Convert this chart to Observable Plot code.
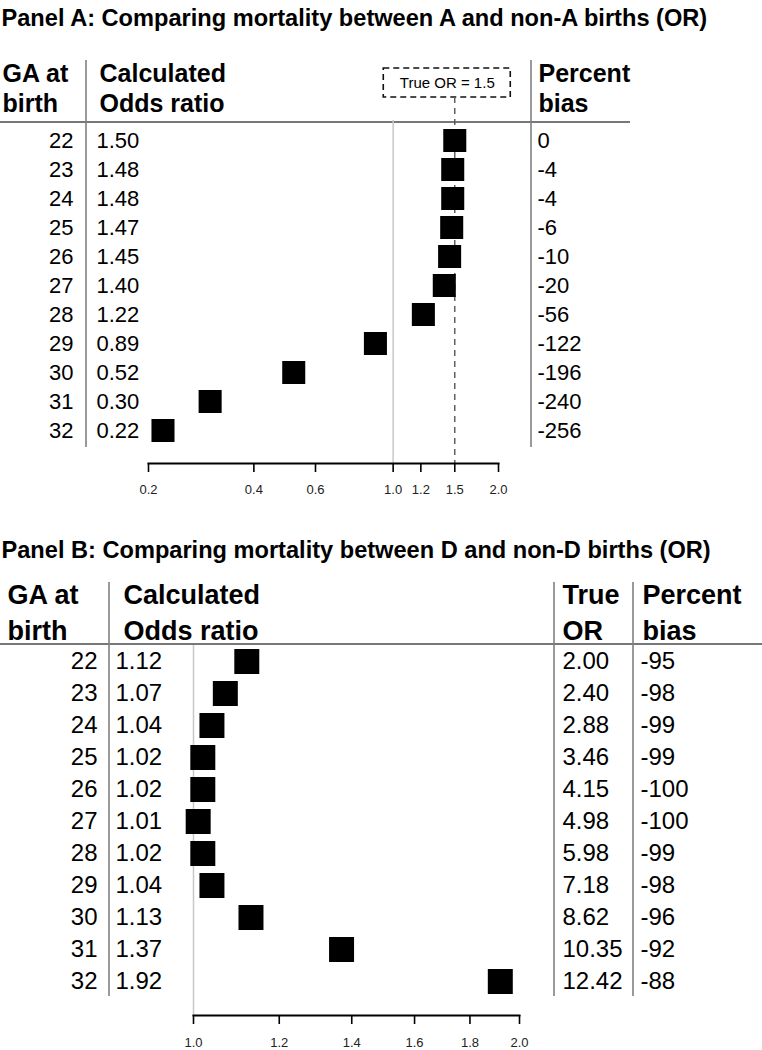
<!DOCTYPE html>
<html><head><meta charset="utf-8">
<script src="https://cdn.jsdelivr.net/npm/d3@7"></script>
<script src="https://cdn.jsdelivr.net/npm/@observablehq/plot@0.6"></script>
<style>
body{margin:0;background:#fff;}
#chart svg{display:block;}
</style></head><body><div id="chart"></div>
<script>
// ---------- data ----------
const gaWeeks = [22, 23, 24, 25, 26, 27, 28, 29, 30, 31, 32];
const orA   = [1.50, 1.48, 1.48, 1.47, 1.45, 1.40, 1.22, 0.89, 0.52, 0.30, 0.22];
const biasA = [0, -4, -4, -6, -10, -20, -56, -122, -196, -240, -256];
const trueOrA = 1.5;
const orB     = [1.12, 1.07, 1.04, 1.02, 1.02, 1.01, 1.02, 1.04, 1.13, 1.37, 1.92];
const trueOrB = [2.00, 2.40, 2.88, 3.46, 4.15, 4.98, 5.98, 7.18, 8.62, 10.35, 12.42];
const biasB   = [-95, -98, -99, -99, -100, -100, -99, -98, -96, -92, -88];
const ticksA = [0.2, 0.4, 0.6, 1.0, 1.2, 1.5, 2.0];
const ticksB = [1.0, 1.2, 1.4, 1.6, 1.8, 2.0];
const titleA = "Panel A: Comparing mortality between A and non-A births (OR)";
const titleB = "Panel B: Comparing mortality between D and non-D births (OR)";
const headersA = ["GA at\nbirth", "Calculated\nOdds ratio", "Percent\nbias"];
const headersB = ["GA at\nbirth", "Calculated\nOdds ratio", "True\nOR", "Percent\nbias"];
const refLabelA = "True OR = 1.5";

const SANS = "'Liberation Sans', Arial, Helvetica, sans-serif";
const f2 = d3.format(".2f");
const f1 = d3.format(".1f");

const rowsA = gaWeeks.map((ga, i) => ({ga, or: orA[i], bias: biasA[i]}));
const rowsB = gaWeeks.map((ga, i) => ({ga, or: orB[i], tor: trueOrB[i], bias: biasB[i]}));

// table decoration (grid lines) drawn relative to the scales
function grid({hLineEnd, dividers, top, bottomPad, headGap, box}) {
  return (index, scales, values, dims) => {
    const g = d3.create("svg:g");
    const y0 = scales.y(gaWeeks[0]);
    const y1 = scales.y(gaWeeks[gaWeeks.length - 1]);
    g.append("line").attr("x1", 0).attr("x2", hLineEnd)
      .attr("y1", y0 - headGap).attr("y2", y0 - headGap)
      .attr("stroke", "#777").attr("stroke-width", 2);
    for (const x of dividers) {
      g.append("line").attr("x1", x).attr("x2", x)
        .attr("y1", top).attr("y2", y1 + bottomPad)
        .attr("stroke", "#808080").attr("stroke-width", 1.6);
    }
    if (box) {
      const cx = scales.x(box.value) + box.dx;
      g.append("rect").attr("x", cx - box.w / 2).attr("y", box.y)
        .attr("width", box.w).attr("height", box.h)
        .attr("fill", "none").attr("stroke", "#111").attr("stroke-width", 1.6)
        .attr("stroke-dasharray", "6,4");
    }
    return g.node();
  };
}

// header marks: one text mark per column header, offset from the frame's top-left
function headerMarks(headers, xs, mL, mT, top, size, lh) {
  return headers.map((h, i) => Plot.text([h], {
    text: d => d, frameAnchor: "top-left", dx: xs[i] - mL, dy: top - mT,
    lineAnchor: "top", textAnchor: "start", fontSize: size, fontWeight: "bold", lineHeight: lh
  }));
}

// ---------- Panel A ----------
const WA = 762, HA = 520;
const mLA = 148, mRA = 264, mTA = 120, mBA = 57;
const panelA = Plot.plot({
  width: WA, height: HA,
  marginLeft: mLA, marginRight: mRA, marginTop: mTA, marginBottom: mBA,
  style: {fontFamily: SANS, background: "white", color: "black", overflow: "visible"},
  x: {type: "log", domain: [0.2, 2]},
  y: {type: "point", domain: gaWeeks, range: [135, 434], padding: 0, axis: null},
  marks: [
    grid({hLineEnd: 630, dividers: [86, 531], top: 60, bottomPad: 17, headGap: 18,
          box: {value: trueOrA, dx: -7.5, y: 68, w: 127, h: 29}}),
    Plot.ruleX([1], {stroke: "#c8c8c8", strokeWidth: 1.5}),
    Plot.ruleX([trueOrA], {stroke: "#555", strokeWidth: 1.4, strokeDasharray: "6,5", insetTop: -23}),
    Plot.dot(rowsA, {x: "or", y: "ga", symbol: "square", r: 13, fill: "black"}),
    Plot.text(rowsA, {y: "ga", text: d => String(d.ga), frameAnchor: "left", dx: 73 - mLA, textAnchor: "end", fontSize: 22}),
    Plot.text(rowsA, {y: "ga", text: d => f2(d.or), frameAnchor: "left", dx: 96 - mLA, textAnchor: "start", fontSize: 22}),
    Plot.text(rowsA, {y: "ga", text: d => String(d.bias), frameAnchor: "left", dx: 537 - mLA, textAnchor: "start", fontSize: 22}),
    Plot.text([titleA], {text: d => d, frameAnchor: "top-left", dx: 1 - mLA, dy: 9 - mTA, lineAnchor: "top", textAnchor: "start", fontSize: 23.6, fontWeight: "bold"}),
    ...headerMarks(headersA, [2, 99, 538], mLA, mTA, 60, 25, 1.2),
    Plot.text([refLabelA], {text: d => d, x: [trueOrA], frameAnchor: "top", dx: -7.5, dy: 82.5 - mTA, lineAnchor: "middle", fontSize: 15}),
    Plot.axisX({ticks: ticksA, tickFormat: f1, tickSize: 9, tickPadding: 12, fontSize: 13, strokeWidth: 1.6, label: null, fill: "#222"}),
    Plot.frame({anchor: "bottom", strokeWidth: 2})
  ]
});

// ---------- Panel B ----------
const WB = 762, HB = 530;
const mLB = 193, mRB = 243, mTB = 125, mBB = 35;
const panelB = Plot.plot({
  width: WB, height: HB,
  marginLeft: mLB, marginRight: mRB, marginTop: mTB, marginBottom: mBB,
  style: {fontFamily: SANS, background: "white", color: "black", overflow: "visible"},
  x: {type: "log", domain: [1, 2]},
  y: {type: "point", domain: gaWeeks, range: [137, 465], padding: 0, axis: null},
  marks: [
    grid({hLineEnd: 762, dividers: [109, 554, 633], top: 62, bottomPad: 15, headGap: 17}),
    Plot.ruleX([1], {stroke: "#c8c8c8", strokeWidth: 1.5}),
    Plot.dot(rowsB, {x: "or", y: "ga", symbol: "square", r: 14.1, fill: "black"}),
    Plot.text(rowsB, {y: "ga", text: d => String(d.ga), frameAnchor: "left", dx: 97 - mLB, textAnchor: "end", fontSize: 24}),
    Plot.text(rowsB, {y: "ga", text: d => f2(d.or), frameAnchor: "left", dx: 115 - mLB, textAnchor: "start", fontSize: 24}),
    Plot.text(rowsB, {y: "ga", text: d => f2(d.tor), frameAnchor: "left", dx: 562 - mLB, textAnchor: "start", fontSize: 24}),
    Plot.text(rowsB, {y: "ga", text: d => String(d.bias), frameAnchor: "left", dx: 640 - mLB, textAnchor: "start", fontSize: 24}),
    Plot.text([titleB], {text: d => d, frameAnchor: "top-left", dx: 1 - mLB, dy: 21 - mTB, lineAnchor: "top", textAnchor: "start", fontSize: 23.6, fontWeight: "bold"}),
    ...headerMarks(headersB, [7, 123, 562, 642], mLB, mTB, 59, 27, 1.3),
    Plot.axisX({ticks: ticksB, tickFormat: f1, tickSize: 9, tickPadding: 13, fontSize: 13, strokeWidth: 1.6, label: null, fill: "#222"}),
    Plot.frame({anchor: "bottom", strokeWidth: 2})
  ]
});

document.getElementById("chart").append(panelA, panelB);
</script>
</body></html>
